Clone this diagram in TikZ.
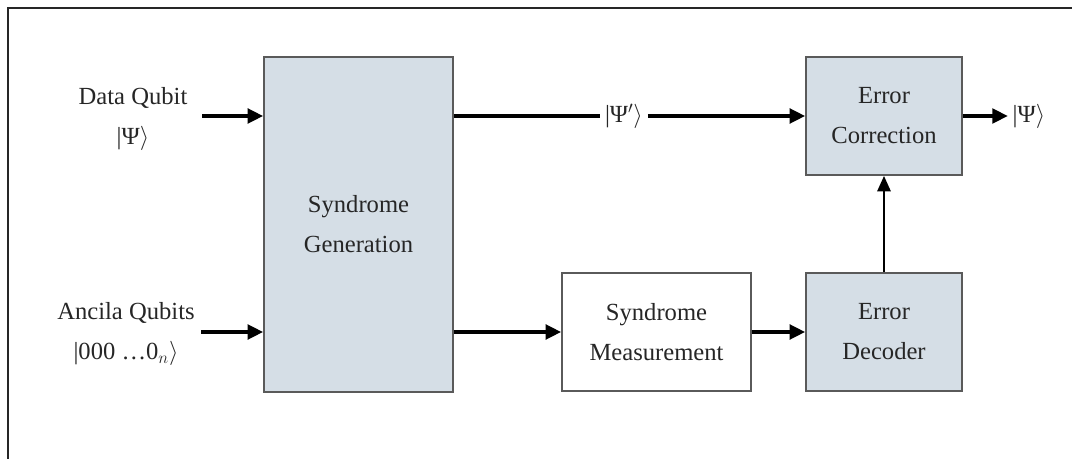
\documentclass[tikz,border=0pt]{standalone}
\usepackage{amsmath}
\usepackage{fontspec}
\setmainfont{Liberation Serif}
\usetikzlibrary{arrows.meta,positioning}
\definecolor{boxfill}{RGB}{213,222,230}
\definecolor{boxline}{RGB}{90,90,90}

\begin{document}
\begin{tikzpicture}[x=0.025cm,y=-0.025cm,
  font=\fontsize{17.5}{28.5}\selectfont, text=black!85,
  blk/.style={draw=boxline,line width=1.3pt,fill=boxfill,align=center,
    minimum width=3.9cm,minimum height=2.95cm},
  wblk/.style={blk,fill=white},
  lbl/.style={align=center},
  arr/.style={line width=2.2pt,-{Triangle[length=11pt,width=10.5pt]}},
  thinarr/.style={line width=1.4pt,-{Triangle[length=11pt,width=9.5pt]}}]
\useasboundingbox (0,0) rectangle (1072,459);

% frame (only top and left edges show)
\draw[line width=2pt,black!85] (1072,8) -- (8,8) -- (8,459);

% blocks
\node[blk,minimum width=4.725cm,minimum height=8.375cm] (gen) at (358.5,224.5) {Syndrome\\Generation};
\node[blk] (ec) at (884,116) {Error\\Correction};
\node[blk] (ed) at (884,332) {Error\\Decoder};
\node[wblk,minimum width=4.725cm] (sm) at (656.5,332) {Syndrome\\Measurement};

% labels
\node[lbl] (dq) at (133,119) {Data Qubit\\{|}Ψ$\rangle$};
\node[lbl] (aq) at (126,334) {Ancila Qubits\\{|}000 \ldots0$_n\rangle$};
\node (psip) at (624,116) {{|}Ψ$'\rangle$};
\node (out) at (1029,116) {{|}Ψ$\rangle$};

% connectors
\draw[arr,shorten <=7pt] (dq.east |- ec) -- (gen.west |- ec);
\draw[arr,shorten <=1pt] (aq.east |- sm) -- (gen.west |- sm);
\draw[line width=2.2pt] (gen.east |- ec) -- (psip);
\draw[arr] (psip) -- (ec);
\draw[arr] (gen.east |- sm) -- (sm);
\draw[arr] (sm) -- (ed);
\draw[thinarr] (ed) -- (ec);
\draw[arr] (ec) -- (out);
\end{tikzpicture}
\end{document}
